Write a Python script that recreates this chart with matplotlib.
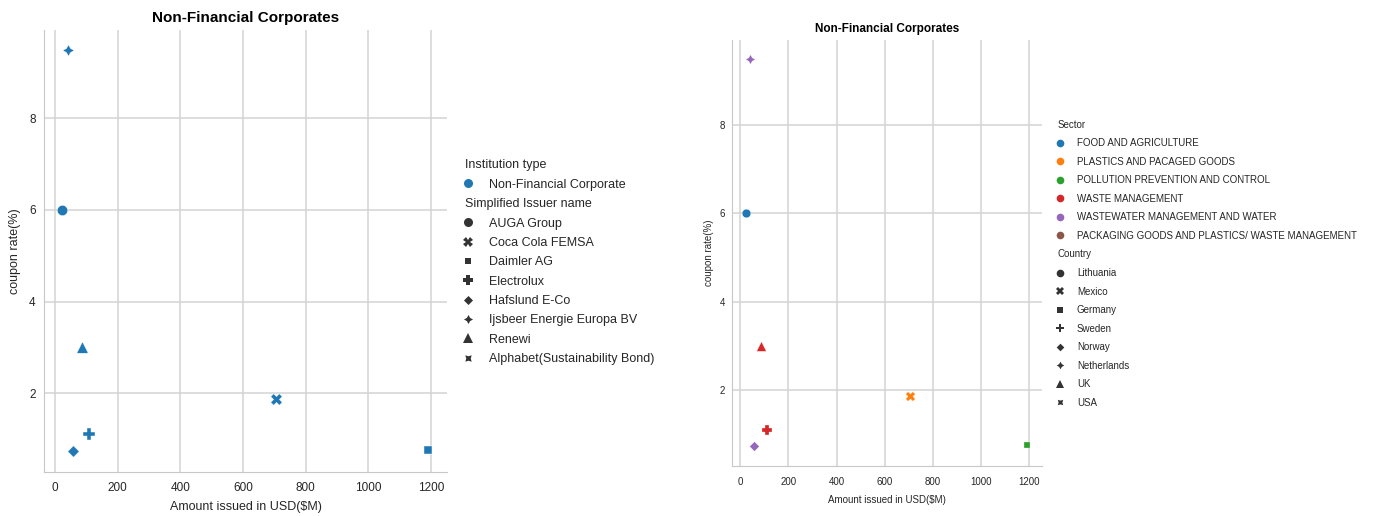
import numpy as np
import matplotlib as mpl
import matplotlib.pyplot as plt
from matplotlib.lines import Line2D

# ---- data ----
issuers = ["AUGA Group", "Coca Cola FEMSA", "Daimler AG", "Electrolux",
           "Hafslund E-Co", "Ijsbeer Energie Europa BV", "Renewi",
           "Alphabet(Sustainability Bond)"]
countries = ["Lithuania", "Mexico", "Germany", "Sweden", "Norway",
             "Netherlands", "UK", "USA"]
issuer_sector = ["FOOD AND AGRICULTURE", "PLASTICS AND PACAGED GOODS",
                 "POLLUTION PREVENTION AND CONTROL", "WASTE MANAGEMENT",
                 "WASTEWATER MANAGEMENT AND WATER", "WASTEWATER MANAGEMENT AND WATER",
                 "WASTE MANAGEMENT",
                 "PACKAGING GOODS AND PLASTICS/ WASTE MANAGEMENT"]
sectors = ["FOOD AND AGRICULTURE", "PLASTICS AND PACAGED GOODS",
           "POLLUTION PREVENTION AND CONTROL", "WASTE MANAGEMENT",
           "WASTEWATER MANAGEMENT AND WATER",
           "PACKAGING GOODS AND PLASTICS/ WASTE MANAGEMENT"]
amount_usd_m = [23, 705, 1190, 110, 58, 42, 85, np.nan]
coupon_rate = [6.0, 1.87, 0.75, 1.1, 0.74, 9.5, 3.0, np.nan]
institution_type = "Non-Financial Corporate"

# seaborn-style marker cycle and tab10 palette
markers = ["o", "X", (4, 0, 45), "P", (4, 0, 0), (4, 1, 0), "^", (4, 1, 45)]
sector_colors = ["#1f77b4", "#ff7f0e", "#2ca02c", "#d62728", "#9467bd", "#8c564b"]

plt.rcParams['font.family'] = ['Liberation Sans', 'DejaVu Sans']
TXT = '#262626'

fig = plt.figure(figsize=(13.82, 5.16), dpi=100)
ax1 = fig.add_axes([0.0318, 0.0853, 0.2916, 0.8566])
ax2 = fig.add_axes([0.5295, 0.0969, 0.2243, 0.8256])


def style_axes(ax, fs_tick, fs_label, fs_title, xpad, ypad, xlpad, ylpad):
    ax.set_xlim(-35, 1251)
    ax.set_ylim(0.28, 9.93)
    ax.set_xticks(range(0, 1201, 200))
    ax.set_yticks([2, 4, 6, 8])
    ax.grid(True, color='#d3d3d3', lw=1.1)
    ax.set_axisbelow(True)
    for s in ['top', 'right']:
        ax.spines[s].set_visible(False)
    for s in ['left', 'bottom']:
        ax.spines[s].set_color('#c8c8c8')
    ax.tick_params(axis='x', length=0, labelsize=fs_tick, colors=TXT, pad=xpad)
    ax.tick_params(axis='y', length=0, labelsize=fs_tick, colors=TXT, pad=ypad)
    ax.set_xlabel('Amount issued in USD($M)', fontsize=fs_label, color=TXT, labelpad=xlpad)
    ax.set_ylabel('coupon rate(%)', fontsize=fs_label, color=TXT, labelpad=ylpad)
    ax.set_title('Non-Financial Corporates', fontsize=fs_title, fontweight='bold')


def add_legend(ax, sections, fs, anchor, ms, spacing, textpad):
    handles, labels = [], []
    for title, entries in sections:
        handles.append(Line2D([], [], linestyle='', visible=False))
        labels.append(title)
        for lab, mk, col in entries:
            handles.append(Line2D([], [], linestyle='', marker=mk, color=col,
                                  markersize=ms, markeredgewidth=0))
            labels.append(lab)
    leg = ax.legend(handles, labels, loc='upper left', bbox_to_anchor=anchor,
                    bbox_transform=fig.transFigure, frameon=False, fontsize=fs,
                    borderpad=0, borderaxespad=0, handlelength=0.5,
                    handletextpad=textpad, labelspacing=spacing)
    for t in leg.get_texts():
        t.set_color(TXT)
    # push section titles flush left, like seaborn does
    for hp in leg.findobj(mpl.offsetbox.VPacker)[0].get_children():
        da, ta = hp.get_children()
        if not all(a.get_visible() for a in da.get_children()):
            da.set_width(0)
            hp.sep = 0
    return leg


# ---- left panel: one colour, marker by issuer ----
for i in range(len(issuers)):
    ax1.scatter(amount_usd_m[i], coupon_rate[i], marker=markers[i],
                s=55 if markers[i] == "o" else 68,
                color=sector_colors[0], edgecolor='white', linewidth=0.3)
style_axes(ax1, 8.5, 9, 11, 7, 6, 5, 6)
add_legend(ax1, [
    ("Institution type", [(institution_type, "o", sector_colors[0])]),
    ("Simplified Issuer name", [(issuers[i], markers[i], '#333333') for i in range(len(issuers))]),
], fs=9, anchor=(0.3365, 0.691), ms=6.5, spacing=0.59, textpad=1.45)

# ---- right panel: colour by sector, marker by country ----
for i in range(len(countries)):
    col = sector_colors[sectors.index(issuer_sector[i])]
    ax2.scatter(amount_usd_m[i], coupon_rate[i], marker=markers[i],
                s=38 if markers[i] == "o" else 48,
                color=col, edgecolor='white', linewidth=0.2)
style_axes(ax2, 7, 7, 8.5, 8, 5, 6, 4)
add_legend(ax2, [
    ("Sector", [(sectors[i], "o", sector_colors[i]) for i in range(len(sectors))]),
    ("Country", [(countries[i], markers[i], '#333333') for i in range(len(countries))]),
], fs=7, anchor=(0.7652, 0.7684), ms=5.5, spacing=0.88, textpad=1.5)

fig.savefig('out.png', dpi=100)
